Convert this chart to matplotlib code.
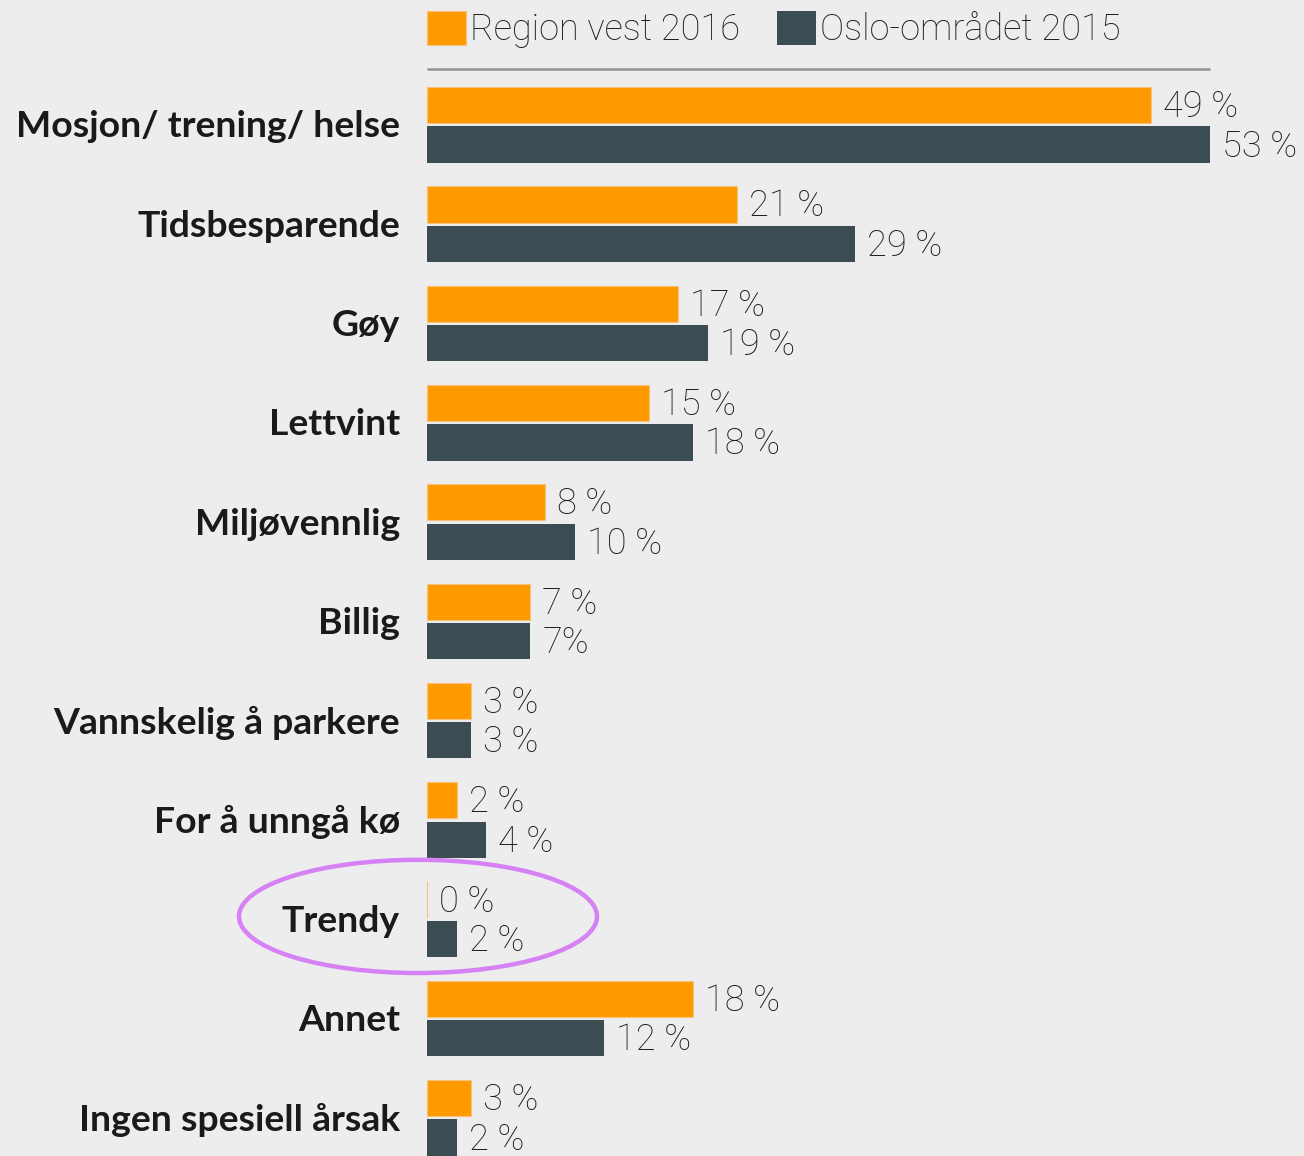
import matplotlib
matplotlib.use('Agg')
import matplotlib.pyplot as plt
from matplotlib.patches import Ellipse
import numpy as np

categories = ["Mosjon/ trening/ helse", "Tidsbesparende", "Gøy", "Lettvint",
              "Miljøvennlig", "Billig", "Vannskelig å parkere", "For å unngå kø",
              "Trendy", "Annet", "Ingen spesiell årsak"]
region_vest_2016 = [49, 21, 17, 15, 8, 7, 3, 2, 0, 18, 3]
oslo_2015 = [53, 29, 19, 18, 10, 7, 3, 4, 2, 12, 2]
region_labels = ["49 %", "21 %", "17 %", "15 %", "8 %", "7 %", "3 %", "2 %", "0 %", "18 %", "3 %"]
oslo_labels = ["53 %", "29 %", "19 %", "18 %", "10 %", "7%", "3 %", "4 %", "2 %", "12 %", "2 %"]
series_names = ["Region vest 2016", "Oslo-området 2015"]
highlight = "Trendy"

W, H = 1304, 1156
BG = "#ededed"
ORANGE = "#ff9900"
DARK = "#3c4c53"

s = 14.77      # px per percent
row = 99.3     # px per category row
x0px, y0px = 427, 125

fig = plt.figure(figsize=(W / 100, H / 100), dpi=100, facecolor=BG)
ax = fig.add_axes([0, 0, 1, 1])
ax.set_facecolor(BG)
ax.set_xlim(-x0px / s, (W - x0px) / s)
ax.set_ylim((H - y0px) / row, -y0px / row)
ax.axis('off')

y = np.arange(len(categories))
bh = 0.365
b1 = ax.barh(y - 0.2, region_vest_2016, height=bh, color=ORANGE,
             edgecolor="#f7c27c", linewidth=0.8, label=series_names[0])
b2 = ax.barh(y + 0.197, oslo_2015, height=bh, color=DARK, linewidth=0,
             label=series_names[1])

light = dict(family=["Roboto", "DejaVu Sans"], weight="light", color="#1e1e1e")
gap = 12 / s
for i in range(len(categories)):
    ax.text(region_vest_2016[i] + gap, y[i] - 0.2 + 0.02, region_labels[i], va="center",
            ha="left", fontsize=26, **light)
    ax.text(oslo_2015[i] + gap, y[i] + 0.197 + 0.02, oslo_labels[i], va="center",
            ha="left", fontsize=26, **light)
    ax.text(-27 / s, y[i] + 0.02, categories[i], va="center", ha="right", fontsize=26.9,
            family=["Lato", "DejaVu Sans"], weight="bold", color="#1a1a1a")

# separator line under legend
ax.hlines(-56 / row, 0, max(oslo_2015), color="#8d9296", lw=1.8)

# highlight ellipse
hi = categories.index(highlight)
ax.add_patch(Ellipse((-9 / s, hi - 0.03), width=358 / s, height=1.14, fill=False,
                     edgecolor="#d681f4", lw=3.2, clip_on=False))

fs = 26
leg = ax.legend(handles=[b1, b2], labels=series_names, loc="upper left",
                bbox_to_anchor=(x0px / W, 1 - 11 / H), bbox_transform=fig.transFigure,
                ncol=2, frameon=False, borderpad=0, borderaxespad=0,
                handlelength=39 / 36, handleheight=38 / 36, handletextpad=0.12,
                columnspacing=1.0, prop=dict(family=["Roboto", "DejaVu Sans"],
                                              weight="light", size=fs))
for t in leg.get_texts():
    t.set_color("#1e1e1e")

fig.savefig("out.png", dpi=100, facecolor=BG)
